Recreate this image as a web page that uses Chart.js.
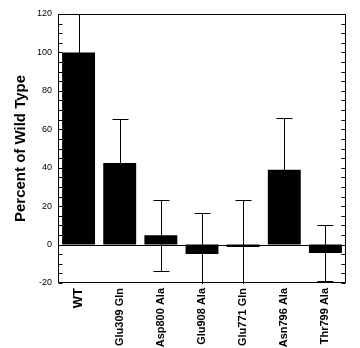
<!DOCTYPE html>
<html>
<head>
<meta charset="utf-8">
<script src="https://cdn.jsdelivr.net/npm/chart.js@4/dist/chart.umd.min.js"></script>
<style>
html,body{margin:0;padding:0;background:#fff;}
#wrap{width:360px;height:348px;}
</style>
</head>
<body>
<div id="wrap"><canvas id="c" width="360" height="348"></canvas></div>
<script>
const categories = ['WT','Glu309 Gln','Asp800 Ala','Glu908 Ala','Glu771 Gln','Asn796 Ala','Thr799 Ala'];
const values = [100, 42.5, 4.8, -4.9, -1.2, 39, -4.4];
const errors = [20, 23, 18.5, 21.5, 24.5, 27, 14.5];
const yMin = -20, yMax = 120, yStep = 20, yMinorStep = 5;
const yTitle = 'Percent of Wild Type';

const FONT = "'Liberation Sans', Arial, sans-serif";

const framePlugin = {
  id: 'frameErr',
  afterDatasetsDraw(chart) {
    const ctx = chart.ctx;
    const a = chart.chartArea;
    const y = chart.scales.y;
    const meta = chart.getDatasetMeta(0);
    ctx.save();
    ctx.strokeStyle = '#000';
    ctx.lineWidth = 1;
    const y0 = Math.round(y.getPixelForValue(0)) + 0.5;
    ctx.beginPath();
    ctx.moveTo(a.left, y0); ctx.lineTo(a.right, y0);
    ctx.stroke();
    ctx.save();
    ctx.beginPath();
    ctx.rect(a.left, a.top, a.right - a.left, a.bottom - a.top + 1);
    ctx.clip();
    const capHalf = 8;
    meta.data.forEach((bar, i) => {
      const x = Math.round(bar.x) + 0.5;
      const yt = Math.round(y.getPixelForValue(values[i] + errors[i])) + 0.5;
      const yb = Math.round(y.getPixelForValue(values[i] - errors[i])) + 0.5;
      ctx.beginPath();
      ctx.moveTo(x, yt); ctx.lineTo(x, yb);
      ctx.moveTo(x - capHalf, yt); ctx.lineTo(x + capHalf, yt);
      ctx.moveTo(x - capHalf, yb); ctx.lineTo(x + capHalf, yb);
      ctx.stroke();
    });
    ctx.restore();
    const L = Math.round(a.left) + 0.5, R = Math.round(a.right) - 0.5;
    const T = Math.round(a.top) + 0.5, B = Math.round(a.bottom) - 0.5;
    ctx.beginPath();
    ctx.moveTo(L, T); ctx.lineTo(R, T); ctx.lineTo(R, B); ctx.lineTo(L, B); ctx.closePath();
    ctx.stroke();
    ctx.beginPath();
    for (let v = yMin; v <= yMax; v += yMinorStep) {
      const py = Math.round(y.getPixelForValue(v)) + 0.5;
      ctx.moveTo(L, py); ctx.lineTo(L + 4, py);
      ctx.moveTo(R, py); ctx.lineTo(R - 4, py);
    }
    ctx.stroke();
    ctx.restore();
  }
};

new Chart(document.getElementById('c'), {
  type: 'bar',
  data: {
    labels: categories,
    datasets: [{
      data: values,
      backgroundColor: '#000',
      borderWidth: 0,
      barPercentage: 0.8,
      categoryPercentage: 1.0
    }]
  },
  options: {
    responsive: false,
    animation: false,
    devicePixelRatio: 1,
    layout: { padding: { top: 14, right: 14, left: 0, bottom: 0 } },
    plugins: { legend: { display: false }, tooltip: { enabled: false } },
    scales: {
      x: {
        grid: { display: false, drawTicks: false },
        border: { display: false },
        ticks: {
          minRotation: 90, maxRotation: 90, padding: 5, color: '#000', autoSkip: false,
          font: (c) => ({ family: FONT, weight: 'bold', size: c.index === 0 ? 13 : 11 })
        },
        afterFit(s) { s.height = 65; }
      },
      y: {
        min: yMin, max: yMax,
        grid: { display: false, drawTicks: false },
        border: { display: false },
        ticks: { stepSize: yStep, padding: 6, color: '#000', font: { family: FONT, size: 9 } },
        title: {
          display: true, text: yTitle, color: '#000',
          font: { family: FONT, weight: 'bold', size: 15 },
          padding: { top: 12, bottom: 0 }
        },
        afterFit(s) { s.width = 58; }
      }
    }
  },
  plugins: [framePlugin]
});
</script>
</body>
</html>
